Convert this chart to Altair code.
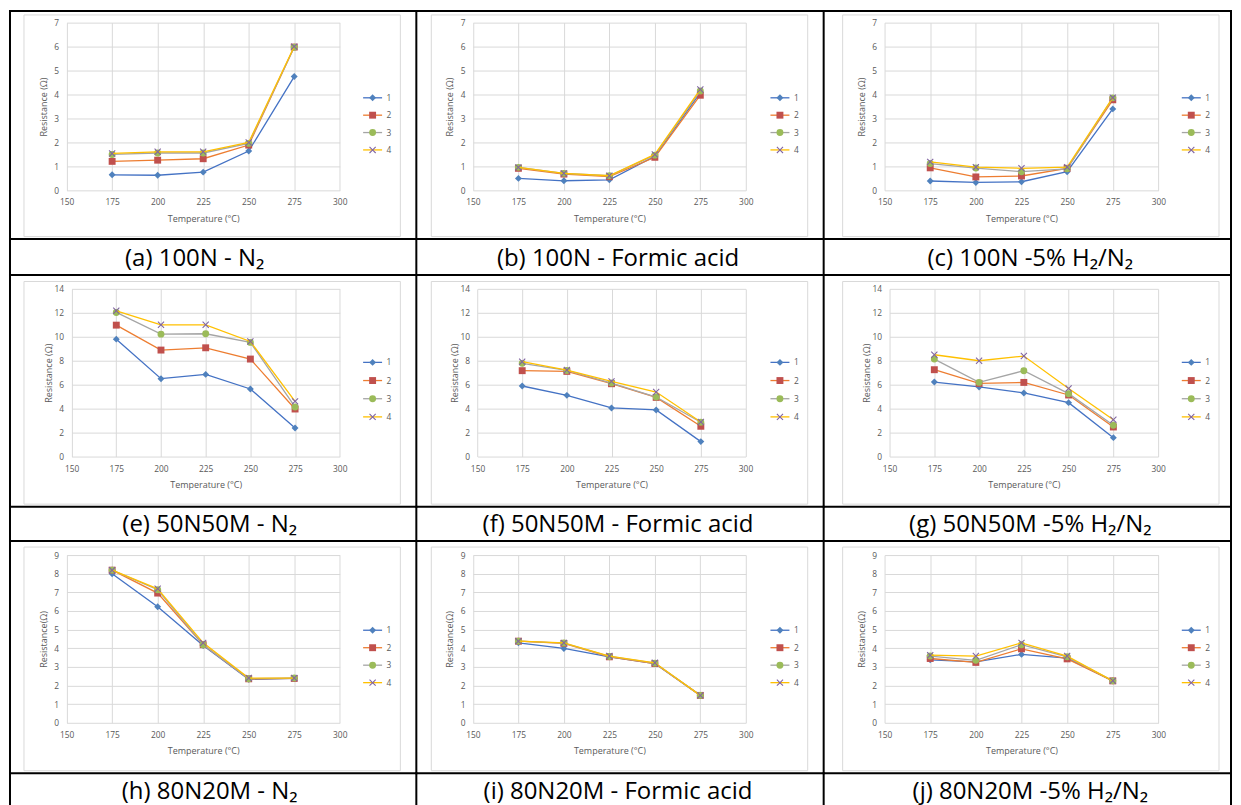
import altair as alt
import pandas as pd

# ---------------- data ----------------
TEMPS = [175, 200, 225, 250, 275]
SERIES = ["1", "2", "3", "4"]
X_TICKS = [150, 175, 200, 225, 250, 275, 300]

PANEL_A = [[0.65, 0.63, 0.76, 1.64, 4.75],
           [1.21, 1.26, 1.32, 1.89, 5.98],
           [1.50, 1.56, 1.56, 1.96, 5.97],
           [1.54, 1.61, 1.61, 2.00, 6.00]]
PANEL_B = [[0.50, 0.40, 0.44, 1.42, 4.08],
           [0.92, 0.68, 0.57, 1.38, 3.97],
           [0.96, 0.71, 0.61, 1.47, 4.15],
           [0.96, 0.71, 0.61, 1.50, 4.21]]
PANEL_C = [[0.39, 0.33, 0.36, 0.78, 3.40],
           [0.94, 0.56, 0.60, 0.92, 3.78],
           [1.12, 0.93, 0.78, 0.90, 3.86],
           [1.19, 0.97, 0.92, 0.97, 3.87]]
PANEL_E = [[9.80, 6.50, 6.86, 5.64, 2.39],
           [10.97, 8.89, 9.08, 8.14, 3.97],
           [12.03, 10.22, 10.25, 9.53, 4.14],
           [12.17, 11.00, 11.00, 9.61, 4.61]]
PANEL_F = [[5.89, 5.11, 4.06, 3.89, 1.25],
           [7.17, 7.11, 6.08, 4.94, 2.53],
           [7.78, 7.19, 6.14, 4.97, 2.86],
           [7.92, 7.22, 6.28, 5.39, 2.89]]
PANEL_G = [[6.22, 5.81, 5.31, 4.50, 1.58],
           [7.25, 6.11, 6.19, 5.14, 2.47],
           [8.14, 6.19, 7.17, 5.25, 2.61],
           [8.50, 8.00, 8.39, 5.69, 3.08]]
PANEL_H = [[8.00, 6.23, 4.15, 2.33, 2.38],
           [8.19, 6.96, 4.19, 2.36, 2.38],
           [8.19, 7.14, 4.19, 2.36, 2.40],
           [8.19, 7.19, 4.29, 2.40, 2.40]]
PANEL_I = [[4.29, 3.99, 3.54, 3.18, 1.47],
           [4.38, 4.26, 3.54, 3.18, 1.47],
           [4.38, 4.28, 3.56, 3.20, 1.47],
           [4.38, 4.29, 3.58, 3.22, 1.47]]
PANEL_J = [[3.38, 3.27, 3.67, 3.47, 2.25],
           [3.45, 3.24, 3.97, 3.43, 2.25],
           [3.58, 3.35, 4.19, 3.54, 2.25],
           [3.63, 3.58, 4.29, 3.58, 2.25]]
PANELS = [PANEL_A, PANEL_B, PANEL_C, PANEL_E, PANEL_F, PANEL_G,
          PANEL_H, PANEL_I, PANEL_J]

CAPTIONS = ["(a) 100N - N\u2082", "(b) 100N - Formic acid", "(c) 100N -5% H\u2082/N\u2082",
            "(e) 50N50M - N\u2082", "(f) 50N50M - Formic acid", "(g) 50N50M -5% H\u2082/N\u2082",
            "(h) 80N20M - N\u2082", "(i) 80N20M - Formic acid", "(j) 80N20M -5% H\u2082/N\u2082"]
Y_TITLES = ["Resistance (\u03a9)", "Resistance (\u03a9)", "Resistance(\u03a9)"]
X_TITLE = "Temperature (\u00b0C)"

Y_MAX = [7, 14, 9]
Y_STEP = [1, 2, 1]

# ---------------- styles / layout ----------------
FONT = "Open Sans"
LINE_COLORS = ["#4472C4", "#ED7D31", "#A5A5A5", "#FFC000"]
MARKER_COLORS = ["#4F81BD", "#C0504D", "#9BBB59", "#8064A2"]
T = 0.22
X_PATH = (f"M-1,-{1-T}L-{1-T},-1L0,-{T}L{1-T},-1L1,-{1-T}L{T},0L1,{1-T}L{1-T},1"
          f"L0,{T}L-{1-T},1L-1,{1-T}L-{T},0Z")
SHAPES = ["diamond", "square", "circle", X_PATH]
GRID = "#d9d9d9"
TXT = "#595959"

GW, GH = 280, 168              # group (cell) size used by the layout
COL_G = [64, 472, 880]          # page x of each column's group origin
ROW_T = [20.7, 287.35, 554.0]   # page y of each row's plot top
PL = [[65.7, 472.7, 885.0], [70.7, 477.3, 890.0], [65.7, 472.7, 885.0]]
PR = [[339.3, 746.0, 1159.3], [339.3, 745.7, 1159.0], [339.3, 746.0, 1159.3]]

VX = [9, 416, 824, 1232]                      # table vertical lines
ROW_TOP = [9, 273.5, 540]                     # table horizontal lines
ROW_MID = [237.5, 505.5, 772.5]
ROW_BOT = [273.5, 540, 807]
FRAME_L = [23, 431, 843]
FRAME_R = [400, 808, 1220]
FRAME_T = [13, 280, 546]
FRAME_B = [235, 503, 770]
CAP_X = [[194, 618, 1031], [209, 618, 1031], [209, 618, 1031]]
CAP_Y = [264, 530.5, 798]
LEG_Y0 = [96, 361, 629.3]
LEG_SP = [17.4, 18.2, 17.5]

ONE = pd.DataFrame({"k": [0]})


def hrule(x1, x2, y, color="black", width=2):
    return alt.Chart(ONE).mark_rule(color=color, strokeWidth=width).encode(
        x=alt.value(x1), x2=alt.value(x2), y=alt.value(y))


def vrule(x, y1, y2, color="black", width=2):
    return alt.Chart(ONE).mark_rule(color=color, strokeWidth=width).encode(
        x=alt.value(x), y=alt.value(y1), y2=alt.value(y2))


def panel(r, c):
    idx = r * 3 + c
    gx, gy = COL_G[c], ROW_T[r]
    dx = PL[r][c] - gx
    w = PR[r][c] - PL[r][c]
    ymax = Y_MAX[r]

    rows = []
    for s, vals in zip(SERIES, PANELS[idx]):
        for t, v in zip(TEMPS, vals):
            rows.append({"T": t, "R": v, "S": s})
    df = pd.DataFrame(rows)

    xenc = alt.X("T:Q",
                 scale=alt.Scale(domain=[150, 300], range=[dx, dx + w], nice=False, zero=False),
                 axis=alt.Axis(values=X_TICKS, title=X_TITLE, grid=True,
                               gridColor=GRID, gridWidth=1, domain=False, ticks=False, tickSize=0,
                               labelPadding=7.5, labelFontSize=8.4, labelColor=TXT, labelFont=FONT,
                               titleFont=FONT, titleFontSize=9, titleColor=TXT, titleFontWeight="normal",
                               titleX=dx + w / 2, titleY=31, titleBaseline="alphabetic",
                               titleAlign="center", labelFlush=False))
    yenc = alt.Y("R:Q",
                 scale=alt.Scale(domain=[0, ymax], nice=False, zero=True),
                 axis=alt.Axis(values=list(range(0, ymax + 1, Y_STEP[r])), title=Y_TITLES[r],
                               grid=True, gridColor=GRID, gridWidth=1, domain=False, ticks=False,
                               tickSize=0, offset=-dx, labelPadding=8, labelFontSize=8.4,
                               labelColor=TXT, labelFont=FONT, titleFont=FONT, titleFontSize=9,
                               titleColor=TXT, titleFontWeight="normal", titleX=-23.5, titleY=GH / 2,
                               titleAngle=270, titleBaseline="middle", titleAlign="center",
                               labelFlush=False))
    color = alt.Color("S:N", scale=alt.Scale(domain=SERIES, range=LINE_COLORS), legend=None)
    fill = alt.Fill("S:N", scale=alt.Scale(domain=SERIES, range=MARKER_COLORS), legend=None)
    shape = alt.Shape("S:N", scale=alt.Scale(domain=SERIES, range=SHAPES), legend=None)

    series_layers = []
    for s in SERIES:
        base = alt.Chart(df).transform_filter(alt.datum.S == s)
        series_layers.append(base.mark_line(strokeWidth=1.3).encode(x=xenc, y=yenc, color=color))
        series_layers.append(base.mark_point(filled=True, size=48, opacity=1, strokeWidth=0).encode(
            x=xenc, y=yenc, fill=fill, shape=shape))
    data_layer = alt.layer(*series_layers)

    # legend
    leg_df = pd.DataFrame({"S": SERIES})
    ly0 = LEG_Y0[r] - gy
    ly1 = ly0 + 3 * LEG_SP[r]
    lx0 = FRAME_L[c] + 339.7 - gx
    legy = alt.Y("S:N", scale=alt.Scale(type="point", domain=SERIES, range=[ly0, ly1], padding=0),
                 axis=None)
    leg_layer = alt.layer(
        alt.Chart(leg_df).mark_rule(strokeWidth=1.3).encode(
            x=alt.value(lx0), x2=alt.value(lx0 + 19), y=legy, color=color),
        alt.Chart(leg_df).mark_point(filled=True, size=48, opacity=1, strokeWidth=0).encode(
            x=alt.value(lx0 + 9.5), y=legy, fill=fill, shape=shape),
        alt.Chart(leg_df).mark_text(align="left", baseline="middle", fontSize=8.4, color=TXT,
                                    font=FONT).encode(x=alt.value(lx0 + 23.5), y=legy, text="S:N"),
    )

    # chart frame (outline only, so the axes drawn beneath stay visible)
    frame = alt.Chart(ONE).mark_rect(fillOpacity=0, fill="white", stroke=GRID, strokeWidth=1).encode(
        x=alt.value(FRAME_L[c] - gx), x2=alt.value(FRAME_R[c] - gx),
        y=alt.value(FRAME_T[r] - gy), y2=alt.value(FRAME_B[r] - gy))

    # table lines
    xl, xr = VX[c] - gx, VX[c + 1] - gx
    borders = [
        hrule(xl - 1, xr + 1, ROW_TOP[r] - gy),
        hrule(xl - 1, xr + 1, ROW_MID[r] - gy),
        vrule(xl, ROW_TOP[r] - gy - 1, ROW_BOT[r] - gy + 1),
    ]
    if c == 2:
        borders.append(vrule(xr, ROW_TOP[r] - gy - 1, ROW_BOT[r] - gy + 1))
    if r == 2:
        borders.append(hrule(xl - 1, xr + 1, ROW_BOT[r] - gy))

    caption = alt.Chart(ONE).mark_text(text=CAPTIONS[idx], font=FONT, fontSize=24, color="black",
                                       align="center", baseline="alphabetic").encode(
        x=alt.value(CAP_X[r][c] - gx), y=alt.value(CAP_Y[r] - gy))

    return alt.layer(frame, data_layer, leg_layer, *borders, caption).resolve_scale(
        y="independent").properties(width=GW, height=GH)


panels = [panel(r, c) for r in range(3) for c in range(3)]

chart = alt.concat(*panels, columns=3, spacing={"row": 266.65 - GH, "column": 408 - GW},
                   bounds="flush").resolve_scale(x="independent", y="independent").properties(
    padding=0).configure_view(stroke=None)

chart.save("out.html", embed_options={"renderer": "svg", "actions": False})
